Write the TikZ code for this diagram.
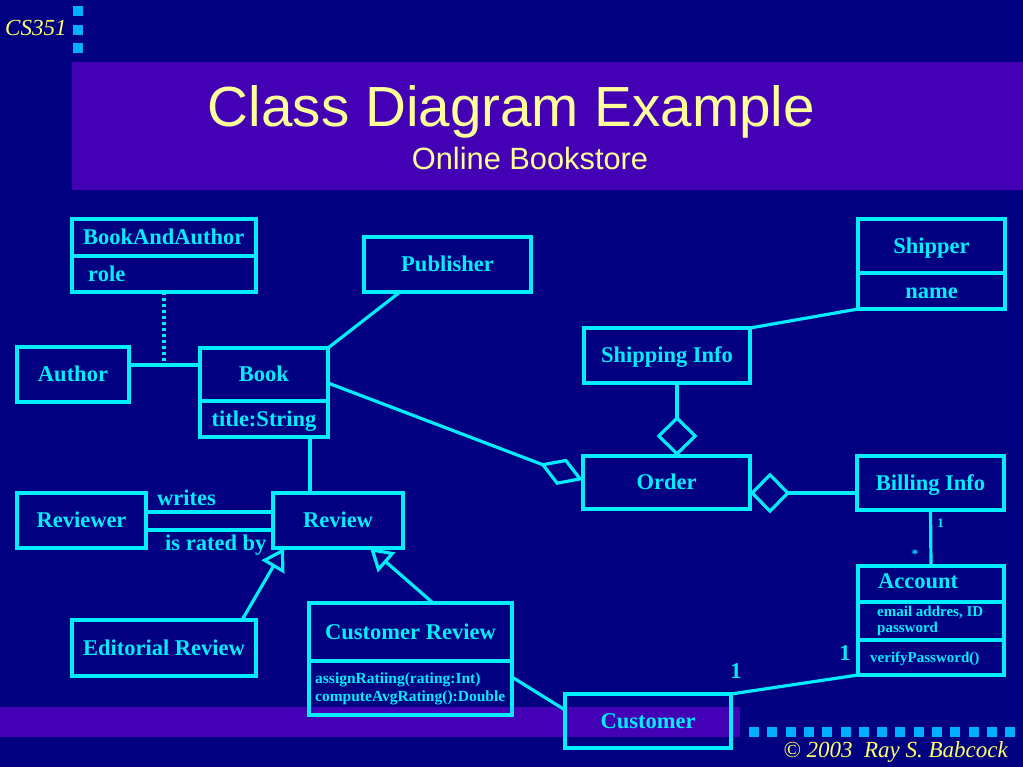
\documentclass[tikz,border=0pt]{standalone}
\usepackage{fontspec}
\setmainfont{Liberation Serif}
\newfontfamily\titlefont{Liberation Sans}
\usetikzlibrary{arrows.meta}
\definecolor{bg}{RGB}{0,0,128}
\definecolor{purp}{RGB}{68,0,180}
\definecolor{cy}{RGB}{0,238,255}
\definecolor{ttl}{RGB}{255,255,153}
\definecolor{yel}{RGB}{255,255,102}
\definecolor{sq}{RGB}{0,176,255}
\begin{document}
\begin{tikzpicture}[x=1pt,y=-1pt,
 box/.style={draw=cy, line width=3.3pt, inner sep=0pt, outer sep=0pt, text=cy,
   font=\bfseries\fontsize{22.5}{24}\selectfont, text height=14.9pt, text depth=0pt},
 lbl/.style={text=cy, inner sep=0pt, font=\bfseries\fontsize{22.5}{24}\selectfont,
   text height=14.9pt, text depth=0pt},
 small/.style={text=cy, inner sep=0pt, align=left},
 mult/.style={text=cy, inner sep=0pt, font=\bfseries\fontsize{13}{14}\selectfont},
 link/.style={draw=cy, line width=3.2pt},
 gen/.style={link, -{Triangle[open, length=22pt, width=26pt]}},
 agg/.style={link, -{Diamond[open, length=40pt, width=41pt]}},
 ttltext/.style={text=ttl, inner sep=0pt, anchor=base},
 foot/.style={text=yel, inner sep=0pt, font=\itshape\fontsize{23}{24}\selectfont},
]
% background and decoration
\path[use as bounding box, fill=bg] (0,0) rectangle (1023,767);
\fill[purp] (72,62) rectangle (1023,190);
\fill[purp] (0,707) rectangle (740,737);
\foreach \yy in {6,25,43} \fill[sq] (73,\yy) rectangle +(10,10);
\foreach \i in {0,...,14} \fill[sq] ({749+18.3*\i},727) rectangle +(10,10);

\node[foot, anchor=base west] (cs) at (5,36) {CS351};
\node[foot, anchor=base east] (copy) at (1008,757) {© 2003\ \ Ray S. Babcock};
\node[ttltext, font=\titlefont\fontsize{56.6}{60}\selectfont] (title) at (511.5,127) {Class Diagram Example};
\node[ttltext, font=\titlefont\fontsize{30.8}{32}\selectfont] (sub) at (530,170) {Online Bookstore};

% classes
\node[box, minimum width=184pt, minimum height=37pt] (baaT) at (164,237.5) {};
\node[box, minimum width=184pt, minimum height=36pt] (baaA) at (164,274) {};
\node[lbl, anchor=west] (baaTt) at ([xshift=11pt]baaT.west) {BookAndAuthor};
\node[lbl, anchor=west] (baaAt) at ([xshift=16pt]baaA.west) {role};

\node[box, minimum width=112pt, minimum height=55pt] (author) at (73,374.5) {Author};
\node[box, minimum width=128pt, minimum height=53pt] (bookT) at (264,374.5) {Book};
\node[box, minimum width=128pt, minimum height=36pt] (bookA) at (264,419) {title:String};
\node[box, minimum width=167pt, minimum height=55pt] (pub) at (447.5,264.5) {Publisher};

\node[box, minimum width=129pt, minimum height=55pt] (reviewer) at (81.5,520.5) {Reviewer};
\node[box, minimum width=130pt, minimum height=55pt] (review) at (338,520.5) {Review};
\node[box, minimum width=184pt, minimum height=56pt] (editorial) at (164,648) {Editorial Review};
\node[box, minimum width=203pt, minimum height=58pt] (crT) at (410.5,632) {Customer Review};
\node[box, minimum width=203pt, minimum height=54pt] (crM) at (410.5,688) {};
\node[small, font=\bfseries\fontsize{15.5}{18}\selectfont, anchor=west] (crMt) at ([xshift=6pt,yshift=-1pt]crM.west)
  {assignRatiing(rating:Int)\\computeAvgRating():Double};
\node[box, minimum width=166pt, minimum height=54pt] (customer) at (648,721) {Customer};

\node[box, minimum width=166pt, minimum height=55pt] (shipinfo) at (667,355.5) {Shipping Info};
\node[box, minimum width=167pt, minimum height=53pt] (order) at (666.5,482.5) {Order};
\node[box, minimum width=147pt, minimum height=54pt] (shipperT) at (931.5,246) {Shipper};
\node[box, minimum width=147pt, minimum height=36pt] (shipperA) at (931.5,291) {name};
\node[box, minimum width=147pt, minimum height=54pt] (billing) at (930.5,483) {Billing Info};

\node[box, minimum width=146pt, minimum height=36pt] (accT) at (931,584) {};
\node[box, minimum width=146pt, minimum height=38pt] (accA) at (931,621) {};
\node[box, minimum width=146pt, minimum height=35pt] (accO) at (931,657.5) {};
\node[lbl, anchor=west] (accTt) at ([xshift=20pt,yshift=3pt]accT.west) {Account};
\node[small, font=\bfseries\fontsize{15}{15.5}\selectfont, anchor=west] (accAt) at ([xshift=19pt]accA.west)
  {email addres, ID\\password};
\node[small, font=\bfseries\fontsize{15}{16}\selectfont, anchor=west, text height=10pt, text depth=0pt] (accOt) at ([xshift=12pt]accO.west)
  {verifyPassword()};

% connectors
\coordinate (abmid) at (164,365);
\draw[link] (author.east |- abmid) -- (bookT.west |- abmid);
\draw[link, line width=4pt, dash pattern=on 3pt off 3pt] (baaA.south) -- (abmid);
\draw[link] (bookT.north east) -- ([xshift=36pt]pub.south west);
\draw[link, -{Diamond[open, length=46pt, width=28pt]}] ([yshift=-8.5pt]bookT.east) -- ([yshift=2.5pt]order.west);
\draw[agg] ([xshift=10pt]shipinfo.south) -- ([xshift=10.5pt]order.north);
\draw[link] (shipinfo.north east) -- (shipperA.south west);
\draw[agg] ([yshift=-10pt]billing.west) -- ([yshift=-10.5pt]order.east);
\draw[link] (billing.south) -- (accT.north);
\draw[link] (accO.south west) -- (customer.north east);
\draw[link] ([yshift=11pt]crM.east) -- ([yshift=11pt]customer.west);
\coordinate (bv) at (310,0);
\draw[link] (bookA.south -| bv) -- (review.north -| bv);
\draw[link] ([yshift=8.5pt]reviewer.east) -- ([yshift=8.5pt]review.west);
\draw[link] ([yshift=-9.5pt]reviewer.east) -- ([yshift=-9.5pt]review.west);
\draw[gen] ([xshift=78pt]editorial.north) -- ([xshift=11pt]review.south west);
\draw[gen] ([xshift=22.5pt]crT.north) -- ([xshift=32pt]review.south);

% labels
\node[lbl, anchor=base west] (lw) at (157,505) {writes};
\node[lbl, anchor=base west] (lr) at (165,550) {is rated by};
\node[mult, anchor=base] (m1) at (940.5,527) {1};
\node[mult, anchor=base] (m2) at (915,558) {*};
\node[lbl, anchor=base] (m3) at (845,660) {1};
\node[lbl, anchor=base] (m4) at (736,678) {1};
\end{tikzpicture}
\end{document}
